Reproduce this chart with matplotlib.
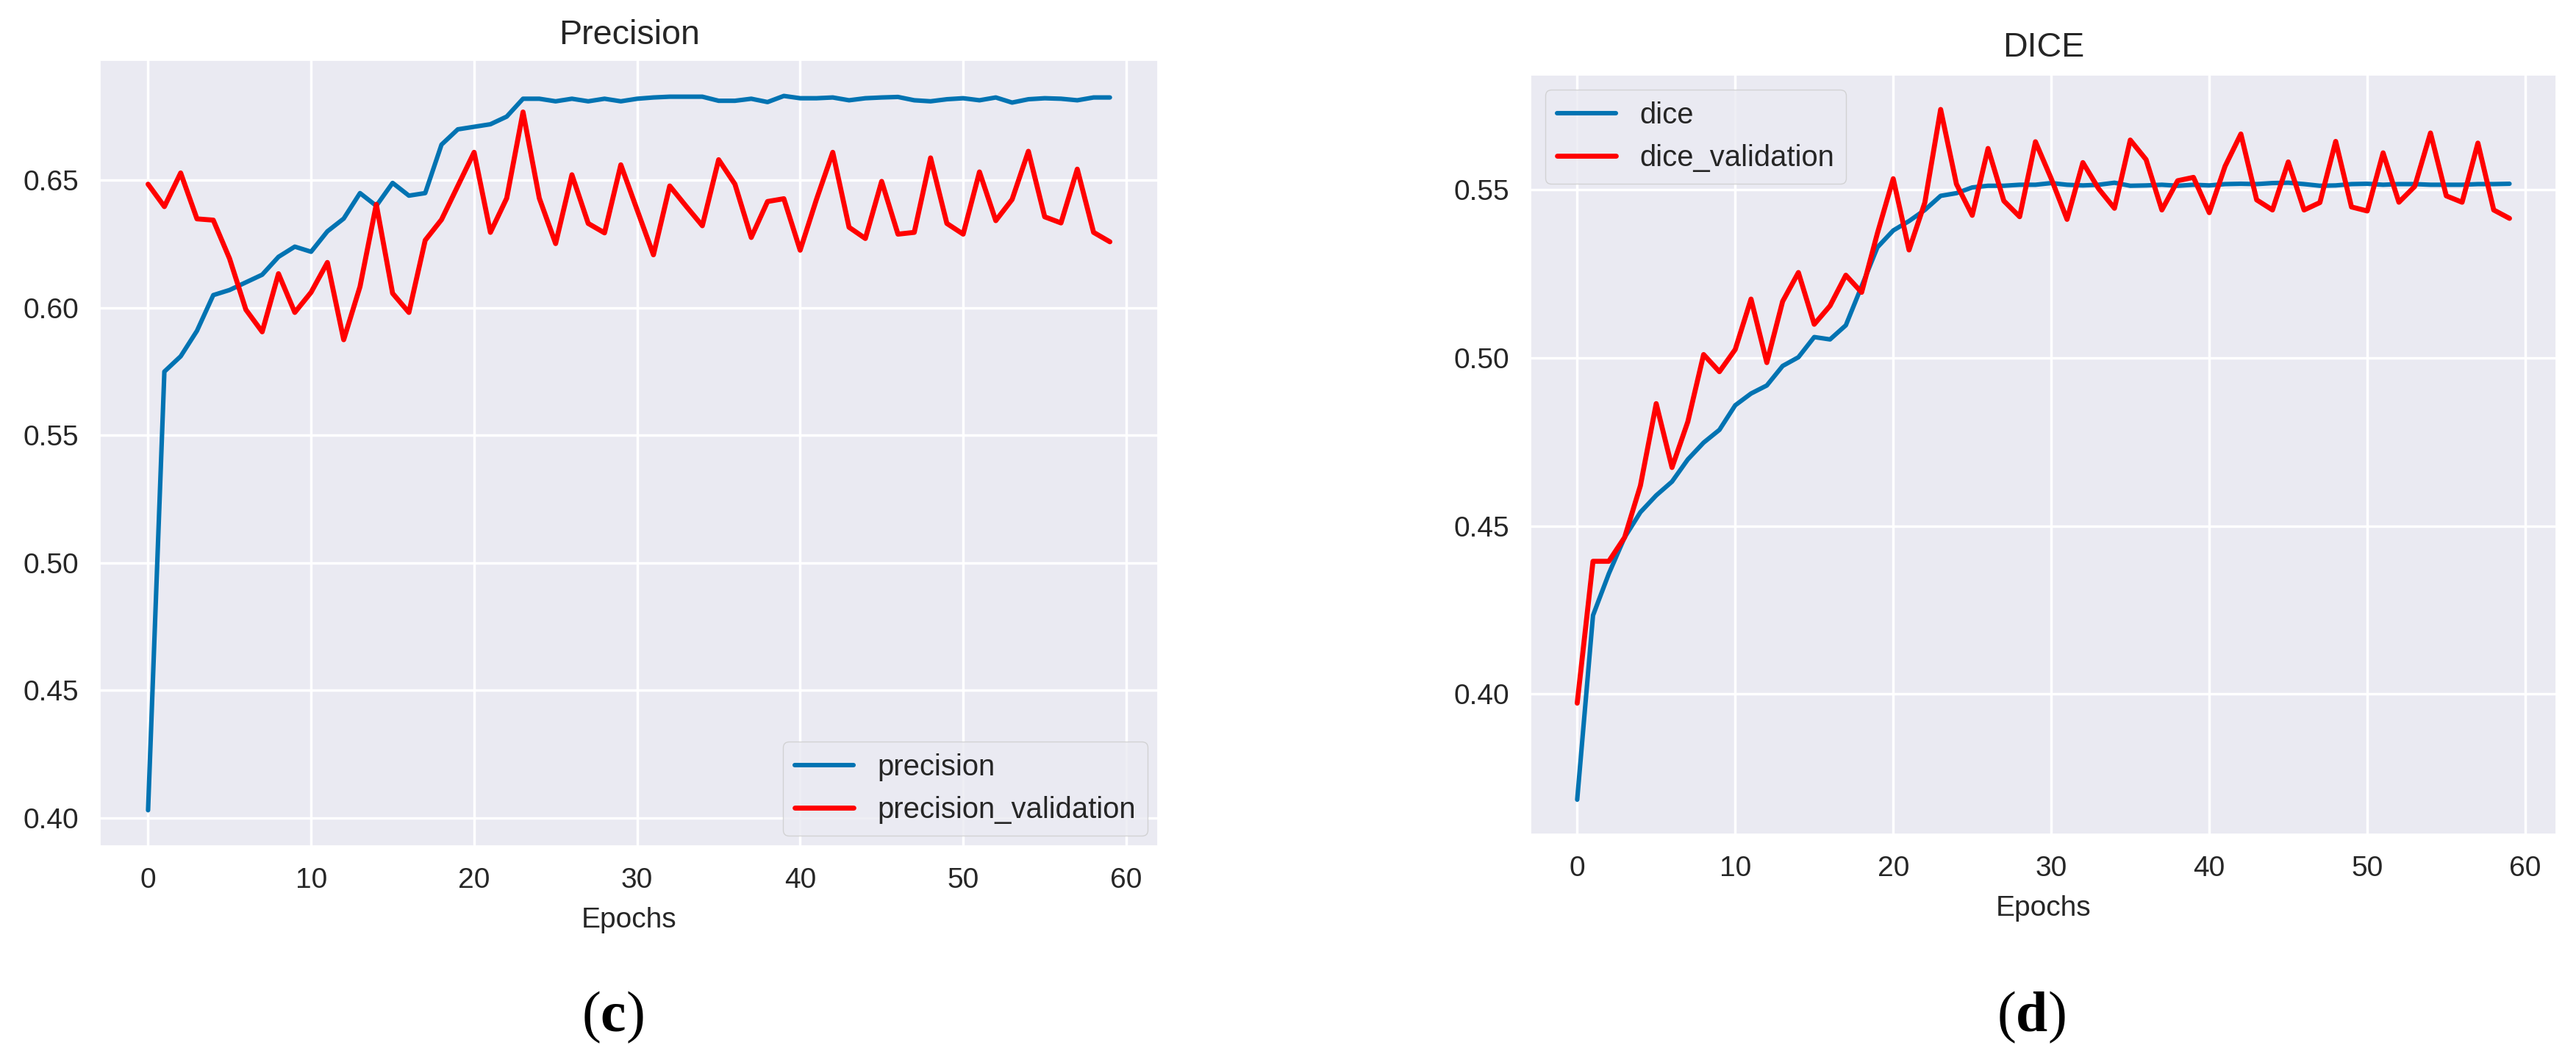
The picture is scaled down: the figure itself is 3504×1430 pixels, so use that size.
import numpy as np
import matplotlib
matplotlib.use('Agg')
import matplotlib.pyplot as plt
import seaborn as sns

sns.set_theme(style='darkgrid')
plt.rcParams['font.family'] = ['Liberation Sans', 'DejaVu Sans']
plt.rcParams['mathtext.fontset'] = 'custom'
plt.rcParams['mathtext.rm'] = 'Liberation Serif'
plt.rcParams['mathtext.bf'] = 'Liberation Serif:bold'

# değerler
epochs = np.arange(60)

precision = [0.403, 0.575, 0.581, 0.591, 0.605, 0.607, 0.610, 0.613, 0.620, 0.624,
             0.622, 0.630, 0.635, 0.645, 0.640, 0.649, 0.644, 0.645, 0.664, 0.670,
             0.671, 0.672, 0.675, 0.682, 0.682, 0.681, 0.682, 0.681, 0.682, 0.681,
             0.682, 0.6825, 0.6828, 0.6828, 0.6828, 0.6812, 0.6812, 0.682, 0.6807, 0.6831,
             0.6822, 0.6822, 0.6825, 0.6814, 0.6822, 0.6825, 0.6827, 0.6814, 0.681, 0.6818,
             0.6822, 0.6814, 0.6825, 0.6805, 0.6818, 0.6822, 0.682, 0.6814, 0.6825, 0.6825]

precision_val = [0.6485, 0.6397, 0.6529, 0.6349, 0.6344, 0.6193, 0.5993, 0.5906, 0.6134, 0.5982,
                 0.6061, 0.6178, 0.5875, 0.6083, 0.6406, 0.6057, 0.5982, 0.6265, 0.6346, 0.6478,
                 0.661, 0.6296, 0.643, 0.6768, 0.643, 0.6252, 0.6522, 0.6331, 0.6294, 0.6561,
                 0.6384, 0.6208, 0.6478, 0.6399, 0.6322, 0.6581, 0.6485, 0.6276, 0.6417, 0.6428,
                 0.6226, 0.6425, 0.661, 0.6316, 0.6272, 0.6496, 0.6289, 0.6296, 0.6588, 0.6331,
                 0.6289, 0.6533, 0.6342, 0.6425, 0.6614, 0.6357, 0.6333, 0.6544, 0.6296, 0.6259]

dice = [0.3686, 0.4234, 0.4358, 0.4466, 0.4541, 0.4591, 0.4632, 0.4698, 0.4748, 0.4786,
        0.4859, 0.4894, 0.4918, 0.4976, 0.5002, 0.5062, 0.5055, 0.5097, 0.5213, 0.5329,
        0.5379, 0.5407, 0.544, 0.5482, 0.549, 0.5507, 0.5512, 0.5512, 0.5515, 0.5515,
        0.552, 0.5515, 0.5513, 0.5515, 0.5521, 0.5512, 0.5513, 0.5515, 0.5512, 0.5515,
        0.5513, 0.5517, 0.5518, 0.5517, 0.552, 0.5521, 0.5517, 0.5512, 0.5513, 0.5517,
        0.5518, 0.5515, 0.5517, 0.5517, 0.5515, 0.5515, 0.5515, 0.5517, 0.5517, 0.5518]

dice_val = [0.3973, 0.4395, 0.4395, 0.4466, 0.462, 0.4864, 0.4674, 0.481, 0.501, 0.4959,
            0.5025, 0.5175, 0.4986, 0.5168, 0.5254, 0.51, 0.5155, 0.5246, 0.5195, 0.5371,
            0.5533, 0.5321, 0.5462, 0.5739, 0.5517, 0.5424, 0.5623, 0.5467, 0.542, 0.5643,
            0.5533, 0.5412, 0.5581, 0.5503, 0.5445, 0.5648, 0.559, 0.544, 0.5527, 0.5537,
            0.5432, 0.557, 0.5666, 0.547, 0.544, 0.5583, 0.544, 0.5462, 0.5644, 0.5449,
            0.5437, 0.561, 0.5463, 0.551, 0.5669, 0.5482, 0.5463, 0.5639, 0.544, 0.5415]

blue = '#0173B2'
red = '#FF0000'
fs = 28

fig = plt.figure(figsize=(35.05, 14.30), dpi=100)
ax1 = fig.add_axes([0.0388, 0.1951, 0.4106, 0.7476])
ax2 = fig.add_axes([0.594, 0.2063, 0.398, 0.7224])


def style_axes(ax, title, title_pad):
    ax.set_title(title, fontsize=fs * 1.2, pad=title_pad, color='#262626')
    ax.set_xlabel('Epochs', fontsize=fs, labelpad=13, color='#262626')
    ax.tick_params(axis='both', labelsize=fs, pad=21, length=0, colors='#262626')
    ax.set_xticks([0, 10, 20, 30, 40, 50, 60])
    ax.grid(True, color='white', linewidth=2.5)


# sol grafik: precision
ax1.plot(epochs, precision, color=blue, linewidth=4.4, label='precision')
ax1.plot(epochs, precision_val, color=red, linewidth=4.9, label='precision_validation')
style_axes(ax1, 'Precision', 16)
ax1.set_yticks([0.40, 0.45, 0.50, 0.55, 0.60, 0.65])
ax1.set_yticklabels(['0.40', '0.45', '0.50', '0.55', '0.60', '0.65'])
ax1.legend(loc='lower right', fontsize=fs * 1.03, borderaxespad=0.35)

# sağ grafik: dice
ax2.plot(epochs, dice, color=blue, linewidth=4.4, label='dice')
ax2.plot(epochs, dice_val, color=red, linewidth=4.9, label='dice_validation')
style_axes(ax2, 'DICE', 18)
ax2.set_yticks([0.40, 0.45, 0.50, 0.55])
ax2.set_yticklabels(['0.40', '0.45', '0.50', '0.55'])
ax2.legend(loc='upper left', fontsize=fs * 1.03)

# alt etiketler
fig.text(0.2377, 0.032, r'($\mathbf{c}$)', fontsize=56, family='Liberation Serif',
         ha='center', va='center', color='black')
fig.text(0.7883, 0.032, r'($\mathbf{d}$)', fontsize=56, family='Liberation Serif',
         ha='center', va='center', color='black')

fig.savefig('out.png', dpi=100)
